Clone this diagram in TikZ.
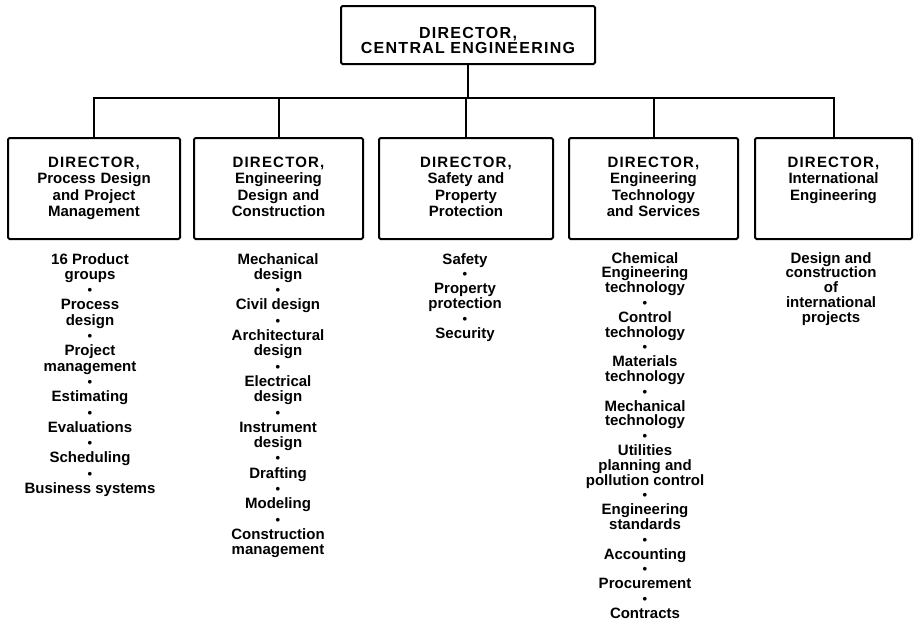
\documentclass[tikz,border=0pt]{standalone}
\usepackage{fontspec}
\setmainfont{Liberation Sans}
\usepackage{tikz}

\newcommand{\spaced}[1]{{\addfontfeature{LetterSpace=8}#1}}
\newcommand{\bul}{{\fontsize{13}{15}\selectfont\textbullet}}

\tikzset{
  dirbox/.style={draw,line width=2pt,rounded corners=1.5pt,anchor=north,align=center,
    inner xsep=0pt,inner ysep=0pt,text height=29pt,text depth=72pt,
    font=\fontsize{15}{16.5}\selectfont\bfseries},
  duties/.style={anchor=north,align=center,inner sep=0pt,
    font=\fontsize{15}{15.3}\selectfont\bfseries},
  link/.style={line width=2pt}
}

\begin{document}
\begin{tikzpicture}[x=1pt,y=-1pt]
\useasboundingbox (0,0) rectangle (920,629);

% directors
\node[dirbox,text width=254pt,text height=32.5pt,text depth=25.5pt,
  font=\fontsize{16}{15}\selectfont\bfseries] (central) at (468,5)
  {\spaced{DIRECTOR,}\\\spaced{CENTRAL ENGINEERING}};
\node[dirbox,text width=172pt] (process) at (94,137)
  {\spaced{DIRECTOR,}\\Process Design\\and Project\\Management};
\node[dirbox,text width=169pt] (engdesign) at (278.5,137)
  {\spaced{DIRECTOR,}\\Engineering\\Design and\\Construction};
\node[dirbox,text width=174pt] (safety) at (466,137)
  {\spaced{DIRECTOR,}\\Safety and\\Property\\Protection};
\node[dirbox,text width=169pt] (engtech) at (653.5,137)
  {\spaced{DIRECTOR,}\\Engineering\\Technology\\and Services};
\node[dirbox,text width=157pt] (intl) at (833.5,137)
  {\spaced{DIRECTOR,}\\International\\Engineering};

% connectors
\draw[link] (central.south) -- ++(0,33) coordinate (bus);
\draw[link] (process.north) |- (bus) -| (intl.north);
\foreach \n in {engdesign,safety,engtech}
  \draw[link] (\n.north) -- (\n.north |- bus);

% duties
\node[duties] (processlist) at (90,253)
  {16 Product\\groups\\\bul\\Process\\design\\\bul\\Project\\management\\\bul\\
   Estimating\\\bul\\Evaluations\\\bul\\Scheduling\\\bul\\Business systems};
\node[duties] (engdesignlist) at (278,253)
  {Mechanical\\design\\\bul\\Civil design\\\bul\\Architectural\\design\\\bul\\
   Electrical\\design\\\bul\\Instrument\\design\\\bul\\Drafting\\\bul\\Modeling\\\bul\\
   Construction\\management};
\node[duties,font=\fontsize{15}{14.8}\selectfont\bfseries] (safetylist) at (465,253)
  {Safety\\\bul\\Property\\protection\\\bul\\Security};
\node[duties,font=\fontsize{15}{14.8}\selectfont\bfseries] (engtechlist) at (645,252)
  {Chemical\\Engineering\\technology\\\bul\\Control\\technology\\\bul\\
   Materials\\technology\\\bul\\Mechanical\\technology\\\bul\\
   Utilities\\planning and\\pollution control\\\bul\\Engineering\\standards\\\bul\\
   Accounting\\\bul\\Procurement\\\bul\\Contracts};
\node[duties,font=\fontsize{15}{14.8}\selectfont\bfseries] (intllist) at (831,252)
  {Design and\\construction\\of\\international\\projects};
\end{tikzpicture}
\end{document}
